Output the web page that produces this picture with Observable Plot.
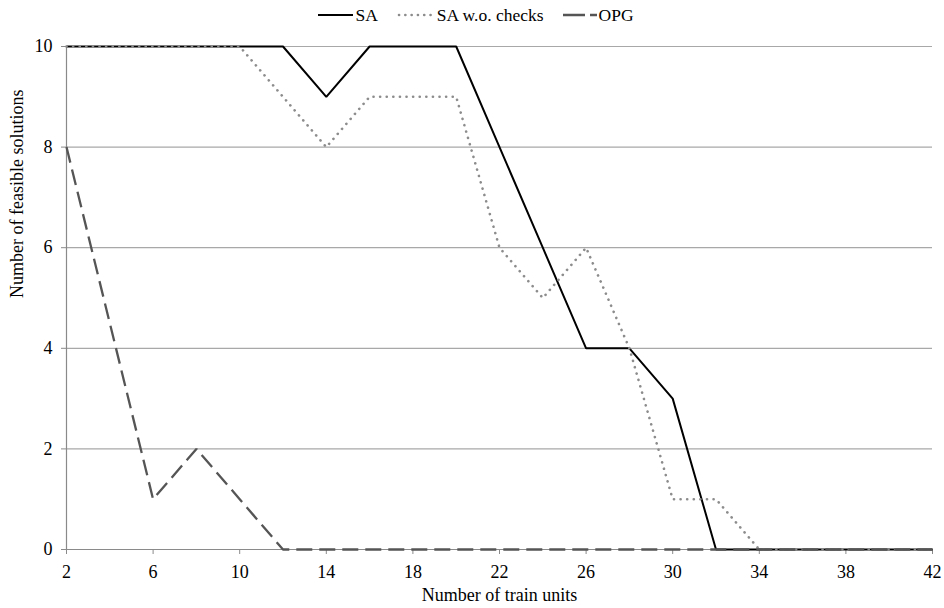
<!DOCTYPE html>
<html>
<head>
<meta charset="utf-8">
<script src="https://cdn.jsdelivr.net/npm/d3@7"></script>
<script src="https://cdn.jsdelivr.net/npm/@observablehq/plot@0.6"></script>
<style>
  html, body { margin: 0; padding: 0; background: #fff; }
  body { width: 944px; height: 608px; overflow: hidden; font-family: "Liberation Serif", "Times New Roman", serif; }
  #legend { height: 30px; display: flex; justify-content: center; align-items: center; font-size: 17.5px; color: #000; padding-left: 8px; box-sizing: border-box; }
  #legend .item { display: flex; align-items: center; margin: 0 9.5px; }
  #legend svg { margin-right: 2px; }
  #chart svg, #chart svg text { font-family: "Liberation Serif", "Times New Roman", serif !important; }
</style>
</head>
<body>
<div id="legend"></div>
<div id="chart"></div>
<script>
const trainUnits = [2,4,6,8,10,12,14,16,18,20,22,24,26,28,30,32,34,36,38,40,42];
const seriesNames = ["SA", "SA w.o. checks", "OPG"];
const saValues     = [10,10,10,10,10,10,9,10,10,10,8,6,4,4,3,0,0,0,0,0,0];
const saWoValues   = [10,10,10,10,10,9,8,9,9,9,6,5,6,4,1,1,0,0,0,0,0];
const opgValues    = [8,null,1,2,1,0,0,0,0,0,0,0,0,0,0,0,0,0,0,0,0];
const xTicks = [2,6,10,14,18,22,26,30,34,38,42];
const yTicks = [0,2,4,6,8,10];

const styles = {
  "SA": {stroke: "#000000", strokeWidth: 2, strokeDasharray: null, linecap: "butt"},
  "SA w.o. checks": {stroke: "#8c8c8c", strokeWidth: 2.6, strokeDasharray: "0.1 6.5", linecap: "round"},
  "OPG": {stroke: "#555555", strokeWidth: 2.3, strokeDasharray: "16 7", linecap: "butt"}
};

const valuesBySeries = [saValues, saWoValues, opgValues];
const rows = [];
seriesNames.forEach((s, i) => {
  trainUnits.forEach((x, j) => {
    const v = valuesBySeries[i][j];
    if (v !== null && v !== undefined) rows.push({series: s, x, y: v});
  });
});

// Legend
const legend = document.getElementById("legend");
const legendDash = {"SA": null, "SA w.o. checks": "0.1 6.2", "OPG": "22 5 7 0"};
const legendW = {"SA": 35, "SA w.o. checks": 38, "OPG": 34};
seriesNames.forEach(s => {
  const st = styles[s];
  const item = document.createElement("div");
  item.className = "item";
  const w = legendW[s];
  item.innerHTML = `<svg width="${w}" height="10"><line x1="${st.linecap === "round" ? 2 : 0}" x2="${w}" y1="5" y2="5" stroke="${st.stroke}" stroke-width="${st.strokeWidth}" ${legendDash[s] ? `stroke-dasharray="${legendDash[s]}"` : ""} stroke-linecap="${st.linecap}"/></svg><span>${s}</span>`;
  legend.appendChild(item);
});

const fontFamily = "'Liberation Serif', 'Times New Roman', serif";

const chart = Plot.plot({
  width: 944,
  height: 578,
  marginLeft: 66,
  marginRight: 12,
  marginTop: 16,
  marginBottom: 59,
  style: {fontFamily, fontSize: "18px", color: "#000", background: "#fff"},
  x: {domain: [2, 42], ticks: xTicks},
  y: {domain: [0, 10], ticks: yTicks},
  marks: [
    Plot.ruleY(yTicks, {stroke: "#a8a8a8", strokeWidth: 1.2}),
    Plot.ruleX([2], {stroke: "#8a8a8a", strokeWidth: 1.2}),
    Plot.ruleY([0], {stroke: "#8a8a8a", strokeWidth: 1.2}),
    Plot.axisY({ticks: yTicks, tickSize: 5, tickPadding: 9, stroke: "#8a8a8a", fontSize: 18, label: null}),
    Plot.axisX({ticks: xTicks, tickSize: 5, tickPadding: 11, stroke: "#8a8a8a", fontSize: 18, label: null}),
    ...seriesNames.map(s => Plot.line(rows.filter(r => r.series === s), {
      x: "x", y: "y",
      stroke: styles[s].stroke,
      strokeWidth: styles[s].strokeWidth,
      strokeDasharray: styles[s].strokeDasharray,
      strokeLinecap: styles[s].linecap,
      strokeLinejoin: "miter"
    })),
    Plot.text(["Number of train units"], {frameAnchor: "bottom", dy: 51, fontSize: 18, fill: "#000"}),
    Plot.text(["Number of feasible solutions"], {frameAnchor: "left", dx: -49, rotate: -90, fontSize: 18, fill: "#000"})
  ]
});
document.getElementById("chart").appendChild(chart);
</script>
</body>
</html>
